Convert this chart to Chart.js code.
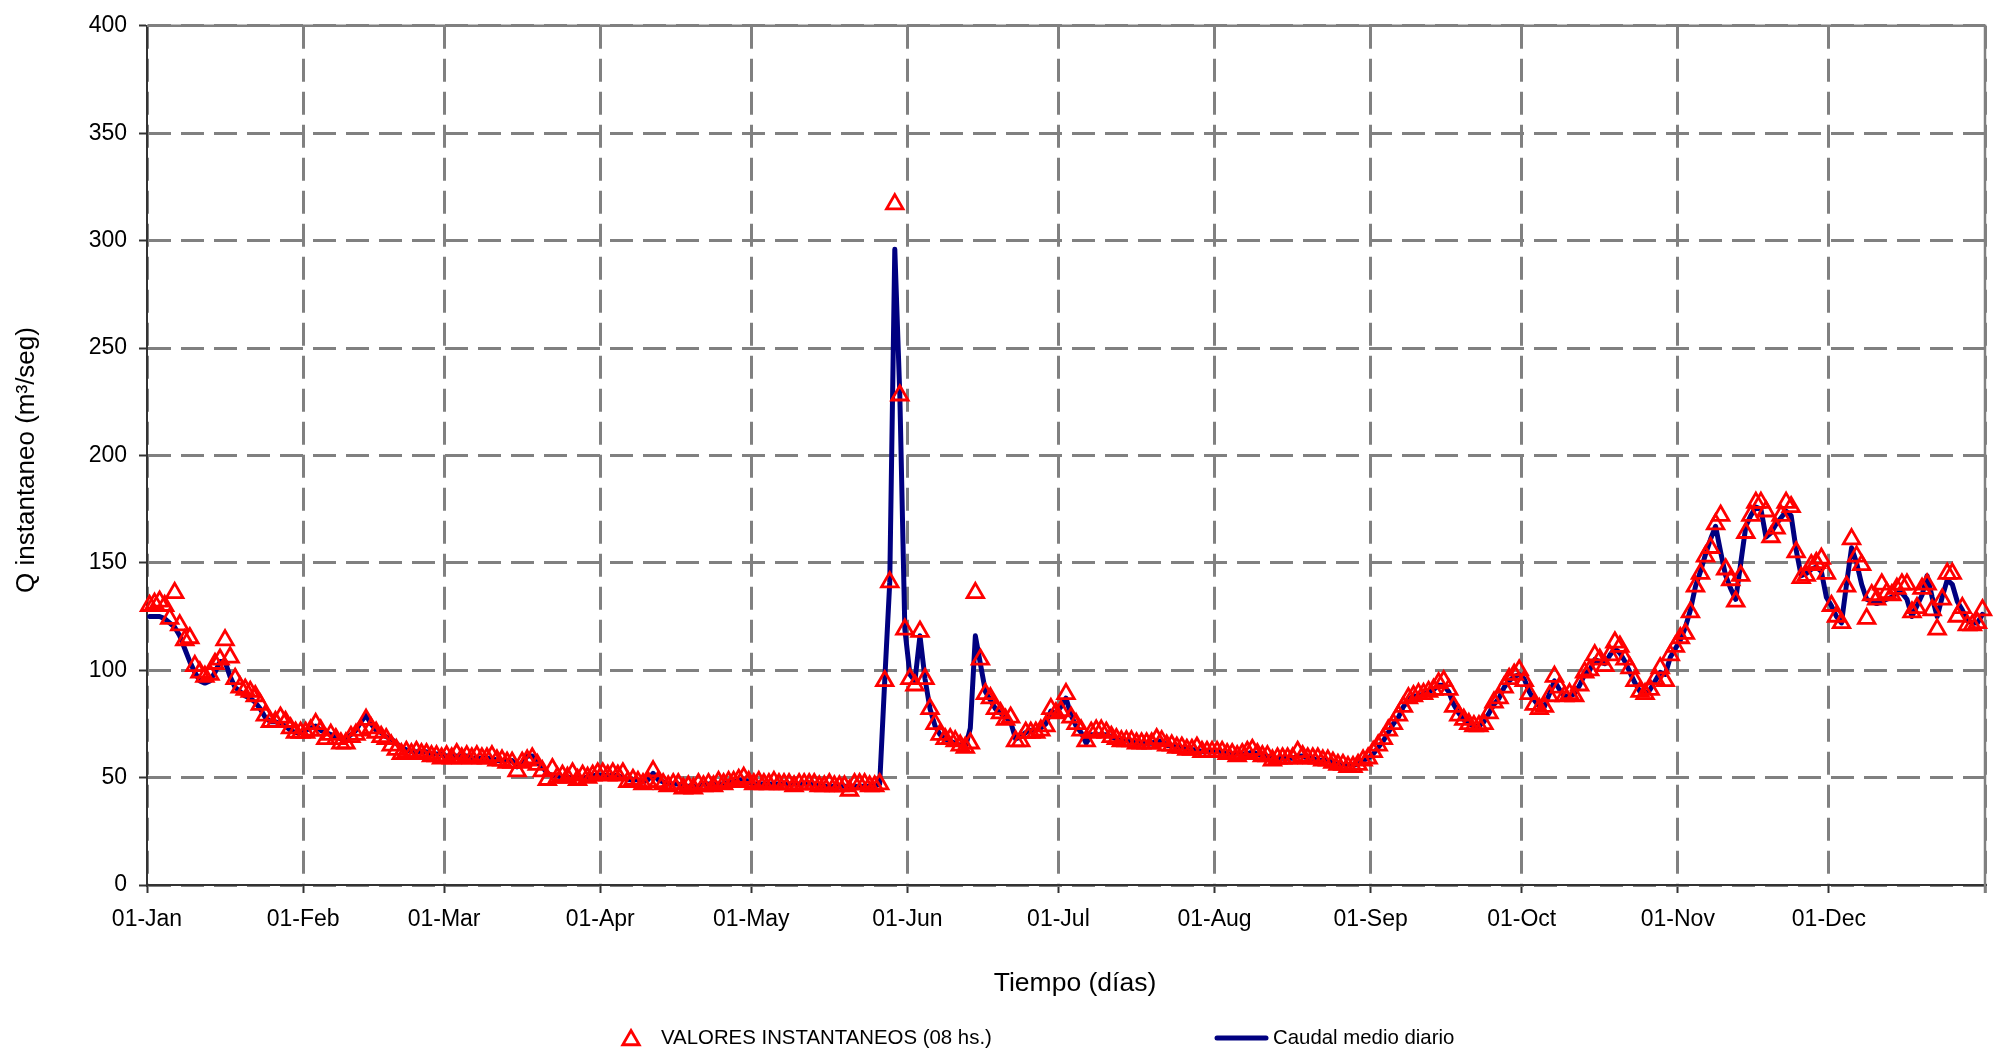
<!DOCTYPE html>
<html>
<head>
<meta charset="utf-8">
<script src="https://cdn.jsdelivr.net/npm/chart.js@4.4.1/dist/chart.umd.min.js"></script>
<style>
html,body{margin:0;padding:0;background:#fff;overflow:hidden}
#wrap{width:2006px;height:1051px;position:relative}
</style>
</head>
<body>
<div id="wrap"><canvas id="c"></canvas></div>
<script>
// ---- axis / category data ----
const monthLabels = ['01-Jan','01-Feb','01-Mar','01-Apr','01-May','01-Jun','01-Jul','01-Aug','01-Sep','01-Oct','01-Nov','01-Dec'];
const monthStartDays = [0,31,59,90,120,151,181,212,243,273,304,334];
const yearDays = 365;
const yMin = 0, yMax = 400, yStep = 50;
const seriesNames = ['VALORES INSTANTANEOS (08 hs.)', 'Caudal medio diario'];
const xTitle = 'Tiempo (días)';
const yTitle = 'Q instantaneo (m³/seg)';

// ---- VALORES INSTANTANEOS (08 hs.) by month ----
const instJan = [130,131,132,130,124,136,121,114,115,102,99,97,98,103,105,114,106,96,92,91,90,88,84,79,76,76,78,76,73,71,71];
const instFeb = [71,72,75,72,68,70,68,66,66,69,70,72,77,73,71,69,68,65,63,61,62,61,62,61,61,60,60,59];
const instMar = [60,59,61,59,60,59,60,59,59,60,58,58,57,57,53,57,58,59,56,53,49,54,50,51,50,52,49,51,50,51,52];
const instApr = [52,51,52,51,52,48,49,48,47,48,53,48,47,46,47,47,45,46,45,47,46,47,46,48,47,48,48,49,50,48];
const instMay = [47,48,47,47,48,47,47,47,46,47,47,47,47,46,46,47,46,46,46,44,47,47,47,46,46,47,95,141,317,228,119];
const instJun = [96,93,118,96,82,75,70,68,68,67,65,64,66,136,105,89,87,82,80,77,78,67,67,71,71,71,72,74,82,80];
const instJul = [81,89,78,75,72,67,71,72,72,71,69,68,67,67,67,66,66,66,66,68,67,65,65,64,64,63,63,64,62,62,62];
const instAug = [62,62,61,61,60,61,62,63,61,60,60,58,59,59,59,59,62,60,59,59,59,58,58,57,56,56,55,55,56,58,59];
const instSep = [62,65,68,72,75,79,83,87,88,89,89,90,91,94,95,91,83,79,77,75,74,74,75,80,85,87,92,96,98,100];
const instOct = [95,89,84,82,83,88,97,92,88,89,88,93,99,100,107,105,102,107,113,111,105,101,95,90,89,91,96,101,95,107,111];
const instNov = [115,117,127,139,145,153,157,168,172,147,142,132,144,164,172,178,178,174,162,166,172,178,176,155,143,144,149,150,152,145];
const instDec = [130,125,122,139,161,153,149,124,135,133,140,136,135,138,140,140,127,129,138,140,128,119,133,145,145,125,129,121,121,122,128];

// ---- Caudal medio diario by month ----
const medioJan = [125,125,125,124,122,120,116,110,104,99,95,94,95,99,104,104,97,92,90,88,87,85,82,78,76,76,75,74,72,71,71];
const medioFeb = [72,73,74,72,71,70,69,68,68,70,72,76,79,75,72,71,69,68,66,64,63,62,62,62,62,61,61,61];
const medioMar = [60,60,60,60,60,59,59,59,59,59,58,58,58,58,55,57,60,60,57,55,52,51,51,50,50,50,50,50,50,51,51];
const medioApr = [51,51,51,51,50,49,49,49,48,49,52,49,48,47,47,47,46,46,46,46,47,47,47,47,47,48,48,49,49,48];
const medioMay = [47,47,47,47,47,47,47,47,47,47,47,47,47,46,46,46,46,46,46,46,46,46,46,46,46,47,95,141,296,228,119];
const medioJun = [98,95,116,96,82,74,70,68,67,66,65,64,73,116,103,90,86,82,80,78,76,68,69,71,72,72,73,75,81,80];
const medioJul = [83,87,79,74,71,66,70,70,70,70,69,68,67,67,67,66,66,66,66,67,67,65,65,64,64,63,63,63,62,62,62];
const medioAug = [62,62,61,61,61,61,61,62,61,60,60,59,59,59,59,59,60,60,59,59,58,58,58,57,56,56,56,56,56,58,59];
const medioSep = [61,64,67,71,75,78,83,86,88,88,89,90,91,93,93,90,84,80,77,75,74,74,76,80,84,87,92,95,97,98];
const medioOct = [96,90,86,83,83,89,95,91,88,88,89,93,98,100,105,104,103,107,110,108,104,99,94,90,89,91,95,99,98,106,110];
const medioNov = [114,120,128,139,146,154,161,167,155,144,138,133,150,167,172,176,175,162,164,168,171,174,172,156,144,145,147,148,146,134];
const medioDec = [130,125,122,140,157,150,140,133,132,131,132,133,134,136,136,133,125,130,135,144,134,125,134,142,140,132,128,123,122,122,126];

const instantaneos = [].concat(instJan,instFeb,instMar,instApr,instMay,instJun,instJul,instAug,instSep,instOct,instNov,instDec);
const caudalMedio = [].concat(medioJan,medioFeb,medioMar,medioApr,medioMay,medioJun,medioJul,medioAug,medioSep,medioOct,medioNov,medioDec);

// each day occupies one slot on the date axis; the point sits in the middle of its slot
const toPoints = arr => arr.map((v, i) => ({x: i + 0.5, y: v}));

const FONT = '"Liberation Sans", Arial, Helvetica, sans-serif';
const RED = '#FF0000';
const NAVY = '#000080';
const GRID = '#808080';
const AXIS = '#333333';
const MARKER_R = 9.5;

const frameAndLegend = {
  id: 'frameAndLegend',
  beforeDatasetsDraw(chart) {
    const {ctx, chartArea: a} = chart;
    ctx.save();
    ctx.strokeStyle = GRID;
    ctx.lineWidth = 2.5;
    ctx.setLineDash([]);
    ctx.beginPath();
    ctx.moveTo(a.left, a.top);
    ctx.lineTo(a.right, a.top);
    ctx.lineTo(a.right, a.bottom + 8);
    ctx.stroke();
    ctx.restore();
  },
  afterDraw(chart) {
    const ctx = chart.ctx;
    const a = chart.chartArea;
    ctx.save();
    ctx.fillStyle = '#000';
    ctx.textAlign = 'center';
    ctx.textBaseline = 'middle';
    // axis titles
    ctx.font = '26.5px ' + FONT;
    ctx.fillText(xTitle, 1075, 984);
    ctx.save();
    ctx.translate(27, 460);
    ctx.rotate(-Math.PI / 2);
    ctx.font = '26px ' + FONT;
    ctx.fillText(yTitle, 0, 0);
    ctx.restore();
    // legend
    const ly = 1038;
    const tx = 631, r = MARKER_R;
    ctx.strokeStyle = RED;
    ctx.lineWidth = 2.8;
    ctx.beginPath();
    ctx.moveTo(tx, ly + 2 - r);
    ctx.lineTo(tx + r * Math.sin(2 * Math.PI / 3), ly + 2 + r / 2);
    ctx.lineTo(tx - r * Math.sin(2 * Math.PI / 3), ly + 2 + r / 2);
    ctx.closePath();
    ctx.stroke();
    ctx.strokeStyle = NAVY;
    ctx.lineWidth = 5;
    ctx.lineCap = 'round';
    ctx.beginPath();
    ctx.moveTo(1217, ly);
    ctx.lineTo(1266, ly);
    ctx.stroke();
    ctx.font = '20.4px ' + FONT;
    ctx.textAlign = 'left';
    ctx.fillText(seriesNames[0], 661, ly);
    ctx.fillText(seriesNames[1], 1273, ly);
    ctx.restore();
  }
};

new Chart(document.getElementById('c'), {
  type: 'line',
  data: {
    datasets: [
      {
        label: seriesNames[0],
        data: toPoints(instantaneos),
        showLine: false,
        pointStyle: 'triangle',
        pointRadius: MARKER_R,
        pointBorderWidth: 2.8,
        pointBorderColor: RED,
        pointBackgroundColor: 'rgba(0,0,0,0)',
        borderColor: RED,
        backgroundColor: 'rgba(0,0,0,0)',
        clip: false,
        order: 0
      },
      {
        label: seriesNames[1],
        data: toPoints(caudalMedio),
        borderColor: NAVY,
        borderWidth: 5,
        pointRadius: 0,
        tension: 0,
        fill: false,
        borderJoinStyle: 'round',
        borderCapStyle: 'round',
        clip: false,
        order: 1
      }
    ]
  },
  options: {
    responsive: true,
    maintainAspectRatio: false,
    devicePixelRatio: 1,
    animation: false,
    events: [],
    layout: {padding: {top: 18, right: 21, bottom: 0, left: 0}},
    plugins: {
      legend: {display: false},
      tooltip: {enabled: false}
    },
    scales: {
      x: {
        type: 'linear',
        min: 0,
        max: yearDays,
        afterBuildTicks(scale) {
          scale.ticks = monthStartDays.concat([yearDays]).map(v => ({value: v}));
        },
        afterFit(scale) { scale.height = 166; },
        ticks: {
          autoSkip: false,
          maxRotation: 0,
          minRotation: 0,
          padding: 13,
          color: '#000',
          font: {family: FONT, size: 23},
          callback(value) {
            const k = monthStartDays.indexOf(value);
            return k >= 0 ? monthLabels[k] : '';
          }
        },
        grid: {
          color: GRID,
          lineWidth: 3,
          drawTicks: true,
          tickLength: 8,
          tickColor: AXIS,
          tickWidth: 2,
          tickBorderDash: []
        },
        border: {display: true, color: AXIS, width: 2, dash: [23, 10]},
        title: {display: false, text: xTitle}
      },
      y: {
        type: 'linear',
        min: yMin,
        max: yMax,
        afterFit(scale) { scale.width = 147; },
        ticks: {
          stepSize: yStep,
          padding: 12,
          color: '#000',
          font: {family: FONT, size: 23}
        },
        grid: {
          color: GRID,
          lineWidth: 3,
          drawTicks: true,
          tickLength: 8,
          tickColor: AXIS,
          tickWidth: 2,
          tickBorderDash: []
        },
        border: {display: true, color: AXIS, width: 2, dash: [23, 10]},
        title: {display: false, text: yTitle}
      }
    }
  },
  plugins: [frameAndLegend]
});
</script>
</body>
</html>
